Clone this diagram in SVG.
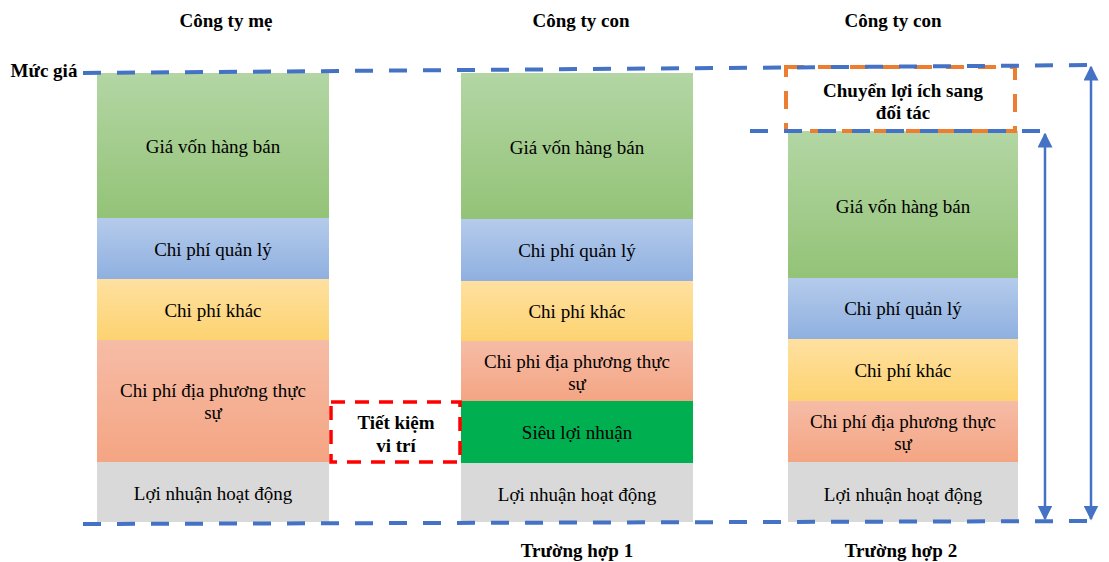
<svg xmlns="http://www.w3.org/2000/svg" width="1109" height="562" viewBox="0 0 1109 562">
<defs>
<linearGradient id="gG" x1="0" y1="0" x2="0" y2="1"><stop offset="0" stop-color="#b3d6a4"/><stop offset="1" stop-color="#93c377"/></linearGradient>
<linearGradient id="gB" x1="0" y1="0" x2="0" y2="1"><stop offset="0" stop-color="#b5cbeb"/><stop offset="1" stop-color="#8fb0e0"/></linearGradient>
<linearGradient id="gY" x1="0" y1="0" x2="0" y2="1"><stop offset="0" stop-color="#fee0a0"/><stop offset="1" stop-color="#fdd371"/></linearGradient>
<linearGradient id="gS" x1="0" y1="0" x2="0" y2="1"><stop offset="0" stop-color="#f6bca6"/><stop offset="1" stop-color="#f4a583"/></linearGradient>
<marker id="ah" viewBox="0 0 10 10" refX="9" refY="5" markerWidth="6" markerHeight="6" orient="auto-start-reverse" markerUnits="strokeWidth"><path d="M0,0 L10,5 L0,10 z" fill="#4472c4"/></marker>
</defs>
<style>
text{font-family:"Liberation Serif","Times New Roman",serif;fill:#000;text-anchor:middle}
.t{font-size:19px}
.b{font-size:19px;font-weight:bold}
.dash{fill:none;stroke:#4472c4;stroke-width:4;stroke-dasharray:18 16}
.arr{fill:none;stroke:#4472c4;stroke-width:2.5}
</style>
<rect width="1109" height="562" fill="#fff"/>

<g id="col1">
<rect x="97" y="73" width="232" height="145" fill="url(#gG)"/>
<rect x="97" y="218" width="232" height="61" fill="url(#gB)"/>
<rect x="97" y="279" width="232" height="61" fill="url(#gY)"/>
<rect x="97" y="340" width="232" height="122" fill="url(#gS)"/>
<rect x="97" y="462" width="232" height="60" fill="#d9d9d9"/>
<text class="t" x="213" y="153">Giá vốn hàng bán</text>
<text class="t" x="213" y="256">Chi phí quản lý</text>
<text class="t" x="213" y="317">Chi phí khác</text>
<text class="t" x="213" y="397">Chi phí địa phương thực</text>
<text class="t" x="213" y="419">sự</text>
<text class="t" x="213" y="500">Lợi nhuận hoạt động</text>
</g>

<g id="col2">
<rect x="461" y="73" width="232" height="146" fill="url(#gG)"/>
<rect x="461" y="219" width="232" height="62" fill="url(#gB)"/>
<rect x="461" y="281" width="232" height="60" fill="url(#gY)"/>
<rect x="461" y="341" width="232" height="60" fill="url(#gS)"/>
<rect x="461" y="401" width="232" height="62" fill="#00b050"/>
<rect x="461" y="463" width="232" height="59" fill="#d9d9d9"/>
<text class="t" x="577" y="154">Giá vốn hàng bán</text>
<text class="t" x="577" y="257">Chi phí quản lý</text>
<text class="t" x="577" y="318">Chi phí khác</text>
<text class="t" x="577" y="368">Chi phi địa phương thực</text>
<text class="t" x="577" y="390">sự</text>
<text class="t" x="577" y="439">Siêu lợi nhuận</text>
<text class="t" x="577" y="501">Lợi nhuận hoạt động</text>
</g>

<g id="col3">
<rect x="788" y="131" width="230" height="147" fill="url(#gG)"/>
<rect x="788" y="278" width="230" height="61" fill="url(#gB)"/>
<rect x="788" y="339" width="230" height="62" fill="url(#gY)"/>
<rect x="788" y="401" width="230" height="61" fill="url(#gS)"/>
<rect x="788" y="462" width="230" height="60" fill="#d9d9d9"/>
<text class="t" x="903" y="213">Giá vốn hàng bán</text>
<text class="t" x="903" y="315">Chi phí quản lý</text>
<text class="t" x="903" y="377">Chi phí khác</text>
<text class="t" x="903" y="428">Chi phí địa phương thực</text>
<text class="t" x="903" y="450">sự</text>
<text class="t" x="903" y="501">Lợi nhuận hoạt động</text>
</g>

<g id="headers">
<text class="b" x="226" y="27">Công ty mẹ</text>
<text class="b" x="581" y="27">Công ty con</text>
<text class="b" x="893" y="27">Công ty con</text>
<text class="b" x="44" y="77">Mức giá</text>
<text class="b" x="577" y="557">Trường hợp 1</text>
<text class="b" x="901" y="557">Trường hợp 2</text>
</g>

<g id="savings">
<rect x="331" y="402" width="129" height="60" fill="none" stroke="#ff0000" stroke-width="3.5" stroke-dasharray="14 10"/>
<text class="b" x="396" y="429">Tiết kiệm</text>
<text class="b" x="396" y="452">vi trí</text>
</g>

<g id="transfer">
<rect x="786" y="67" width="229" height="64" fill="none" stroke="#ed7d31" stroke-width="4" stroke-dasharray="18 14"/>
<text class="b" x="903" y="97">Chuyển lợi ích sang</text>
<text class="b" x="903" y="119">đối tác</text>
</g>

<g id="connectors">
<path class="dash" d="M83,73 L1100,65"/>
<path class="dash" d="M83,524 L1100,521"/>
<path class="dash" d="M750,131 L1045,131"/>
<path class="arr" d="M1045,134 L1045,519" marker-start="url(#ah)" marker-end="url(#ah)"/>
<path class="arr" d="M1091,67 L1091,519" marker-start="url(#ah)" marker-end="url(#ah)"/>
</g>
</svg>
